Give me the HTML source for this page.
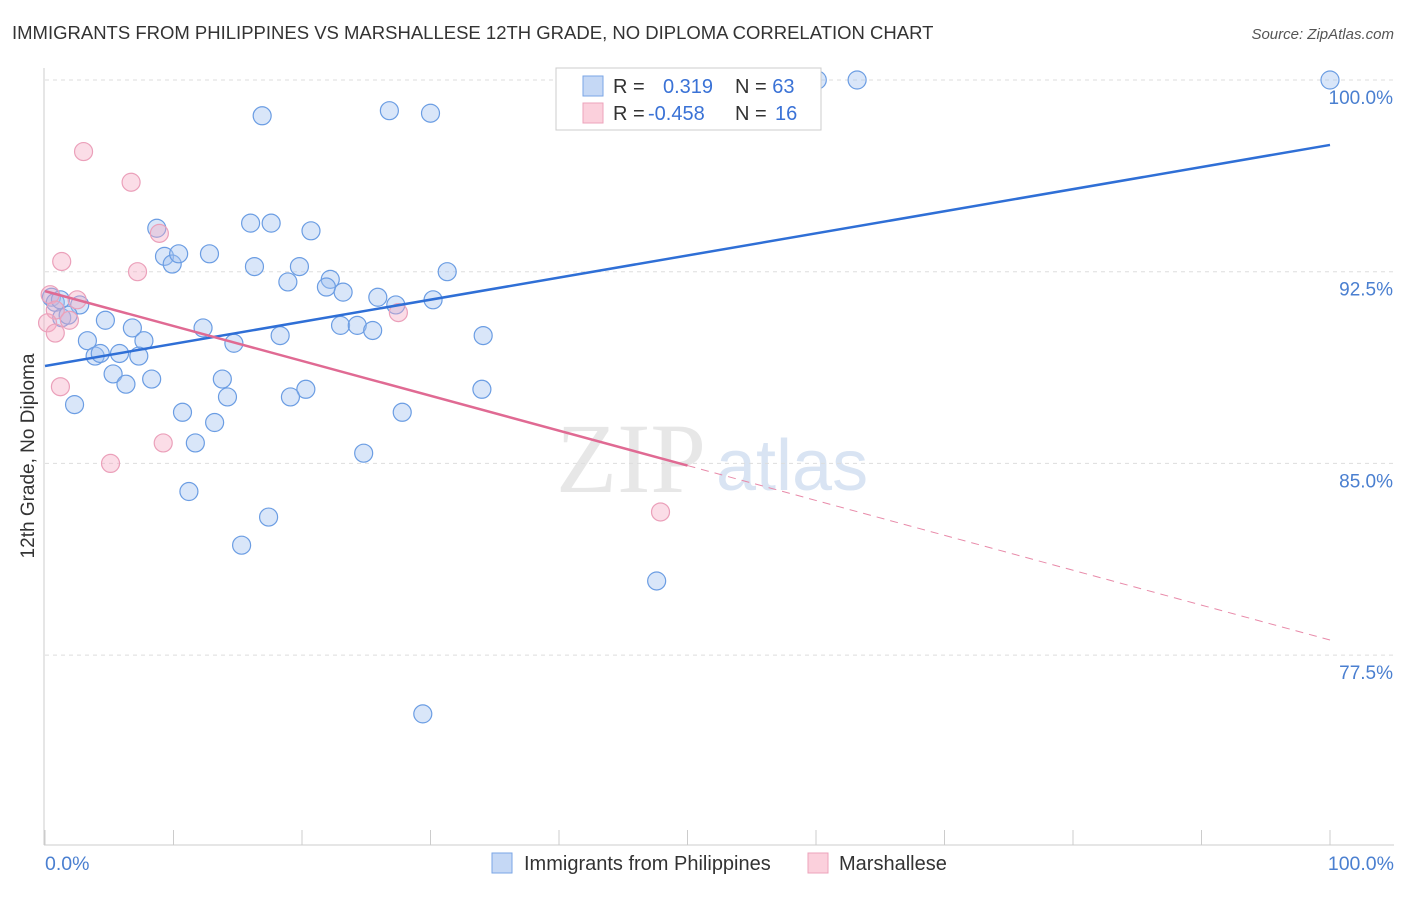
<!DOCTYPE html>
<html><head><meta charset="utf-8"><style>
body{margin:0;background:#fff;font-family:"Liberation Sans",sans-serif}
</style></head><body>
<svg width="1406" height="892" xmlns="http://www.w3.org/2000/svg">
<text x="12" y="39" font-size="18.5" fill="#333">IMMIGRANTS FROM PHILIPPINES VS MARSHALLESE 12TH GRADE, NO DIPLOMA CORRELATION CHART</text>
<text x="1394" y="39" font-size="15" fill="#555" font-style="italic" text-anchor="end">Source: ZipAtlas.com</text>
<text x="556" y="492" font-size="100" fill="#ddd" font-family="Liberation Serif" opacity="0.7">ZIP</text>
<text x="716" y="490" font-size="72" fill="#c9d9ef" opacity="0.7">atlas</text>
<g id="grid"></g>
<line x1="44" y1="68" x2="44" y2="845" stroke="#ccc"/>
<line x1="44" y1="845" x2="1394" y2="845" stroke="#ccc"/>
<g id="ticks"></g>
<text x="34" y="456" font-size="19" fill="#333" text-anchor="middle" transform="rotate(-90 34 456)">12th Grade, No Diploma</text>
<text x="45" y="870" font-size="19.5" fill="#4a7fd0">0.0%</text>
<text x="1394" y="870" font-size="19.5" fill="#4a7fd0" text-anchor="end">100.0%</text>
<g id="pts"></g>
<g id="lines"></g>
<g>
<rect x="556" y="68" width="265" height="62" fill="#fff" stroke="#ccc"/>
<rect x="583" y="76" width="20" height="20" fill="#c5d8f5" stroke="#7aa6e6"/>
<rect x="583" y="103" width="20" height="20" fill="#fbd0dc" stroke="#eda3bb"/>
<text x="613" y="93" font-size="20" fill="#333">R = <tspan fill="#3a72d6" x="663">0.319</tspan><tspan x="735" fill="#333">N = </tspan><tspan fill="#3a72d6">63</tspan></text>
<text x="613" y="120" font-size="20" fill="#333">R = <tspan fill="#3a72d6" x="648">-0.458</tspan><tspan x="735" fill="#333">N = </tspan><tspan fill="#3a72d6" x="775">16</tspan></text>
</g>
<g>
<rect x="492" y="853" width="20" height="20" fill="#c5d8f5" stroke="#7aa6e6"/>
<text x="524" y="870" font-size="20" fill="#333">Immigrants from Philippines</text>
<rect x="808" y="853" width="20" height="20" fill="#fbd0dc" stroke="#eda3bb"/>
<text x="839" y="870" font-size="20" fill="#333">Marshallese</text>
</g>
</svg>
<script>
const yTicks=[100,92.5,85,77.5];
const yTickLabels=["100.0%","92.5%","85.0%","77.5%"];
const xTicks=[0,10,20,30,40,50,60,70,80,90,100];
const blueX=[60.1,63.2,100,16.9,26.8,30.0,8.7,16.0,17.6,20.7,9.3,9.9,10.4,12.8,16.3,19.8,31.3,18.9,22.2,21.9,23.2,25.9,27.3,30.2,0.5,0.8,1.2,2.7,1.3,1.8,4.7,6.8,12.3,23.0,24.3,25.5,18.3,34.1,3.3,7.7,14.7,3.9,4.3,5.8,7.3,5.3,6.3,8.3,13.8,20.3,19.1,14.2,34.0,2.3,10.7,27.8,13.2,11.7,24.8,11.2,17.4,15.3,47.6,29.4];
const blueY=[100,100,100,98.6,98.8,98.7,94.2,94.4,94.4,94.1,93.1,92.8,93.2,93.2,92.7,92.7,92.5,92.1,92.2,91.9,91.7,91.5,91.2,91.4,91.5,91.3,91.4,91.2,90.7,90.8,90.6,90.3,90.3,90.4,90.4,90.2,90.0,90.0,89.8,89.8,89.7,89.2,89.3,89.3,89.2,88.5,88.1,88.3,88.3,87.9,87.6,87.6,87.9,87.3,87.0,87.0,86.6,85.8,85.4,83.9,82.9,81.8,80.4,75.2];
const pinkX=[3.0,6.7,8.9,1.3,7.2,0.4,2.5,0.8,0.2,1.9,0.8,27.5,1.2,9.2,5.1,47.9];
const pinkY=[97.2,96.0,94.0,92.9,92.5,91.6,91.4,91.0,90.5,90.6,90.1,90.9,88.0,85.8,85.0,83.1];
const blueTrend=[88.81,97.46];
const pinkTrend=[91.74,78.09];
const pinkSolidEnd=50;
const X=v=>45+v*12.85, Y=v=>80+(100-v)*25.56;
const NS="http://www.w3.org/2000/svg";
function mk(tag,attrs,parent){const e=document.createElementNS(NS,tag);for(const k in attrs)e.setAttribute(k,attrs[k]);document.getElementById(parent).appendChild(e);return e;}
yTicks.forEach((t,i)=>{
 const l=mk('line',{x1:45,x2:1394,y1:Y(t),y2:Y(t),stroke:'#ddd','stroke-dasharray':'4,4'},'grid');
 
 
 const tx=mk('text',{x:1393,y:Y(t)+24,'font-size':19,fill:'#4a7fd0','text-anchor':'end'},'grid');
 tx.textContent=yTickLabels[i];
 
 
});
xTicks.forEach(t=>{
 const l=mk('line',{x1:X(t),x2:X(t),y1:830,y2:845,stroke:'#ccc'},'ticks');
 
 
});
blueX.forEach((v,i)=>{
 const c=mk('circle',{cx:X(v),cy:Y(blueY[i]),r:9,fill:'rgba(160,192,240,0.4)',stroke:'#6b9de3','stroke-width':1.2},'pts');
 
 
});
pinkX.forEach((v,i)=>{
 const c=mk('circle',{cx:X(v),cy:Y(pinkY[i]),r:9,fill:'rgba(245,170,195,0.4)',stroke:'#eba0ba','stroke-width':1.2},'pts');
 
 
});
const bl=mk('line',{x1:X(0),y1:Y(blueTrend[0]),x2:X(100),y2:Y(blueTrend[1]),stroke:'#2f6fd6','stroke-width':2.5},'lines');


const py=x=>pinkTrend[0]+(pinkTrend[1]-pinkTrend[0])*x/100;
const pl=mk('line',{x1:X(0),y1:Y(py(0)),x2:X(pinkSolidEnd),y2:Y(py(pinkSolidEnd)),stroke:'#e06a93','stroke-width':2.5},'lines');


const pd=mk('line',{x1:X(pinkSolidEnd),y1:Y(py(pinkSolidEnd)),x2:X(100),y2:Y(py(100)),stroke:'#e88aa9','stroke-width':1,'stroke-dasharray':'8,6'},'lines');


</script>
</body></html>
